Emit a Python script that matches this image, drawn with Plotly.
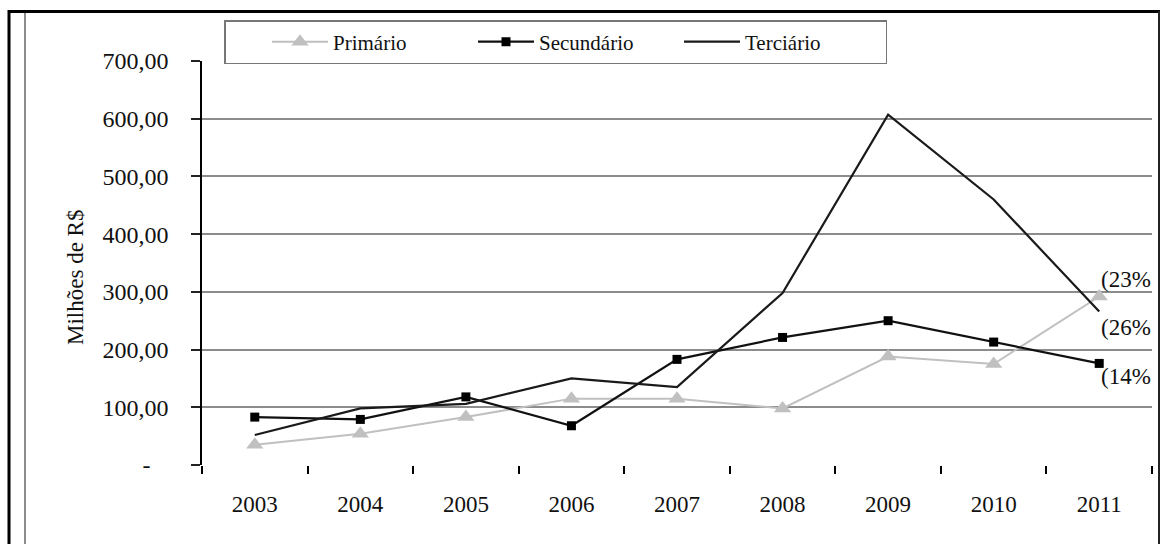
import plotly.graph_objects as go

# Investimentos por setor (milhões de R$)
anos = ["2003", "2004", "2005", "2006", "2007", "2008", "2009", "2010", "2011"]
primario = [35, 54, 83, 115, 115, 98, 188, 175, 292]
secundario = [83, 79, 118, 68, 183, 221, 250, 213, 176]
terciario = [52, 98, 106, 150, 135, 298, 607, 460, 266]

y_ticks = [0, 100, 200, 300, 400, 500, 600, 700]
y_tick_text = ["-\u00a0\u00a0\u00a0", "100,00", "200,00", "300,00", "400,00",
               "500,00", "600,00", "700,00"]

# rótulos percentuais do último ano (série, texto, deslocamento vertical)
rotulos_2011 = [
    (primario, "(23%", 17),
    (terciario, "(26%", -16),
    (secundario, "(14%", -13),
]

W, H = 1161, 544
L, R, T, B = 202, 9, 61, 79
PW, PH = W - L - R, H - T - B
FONT = "Liberation Serif, Times New Roman, Times, serif"


def px(x):
    return (x - L) / PW


def py(y):
    return (H - B - y) / PH


fig = go.Figure()
fig.add_trace(go.Scatter(
    x=anos, y=primario, name="Primário", mode="lines+markers",
    line=dict(color="#c0c0c0", width=2),
    marker=dict(symbol="triangle-up", size=15, color="#c0c0c0"),
))
fig.add_trace(go.Scatter(
    x=anos, y=secundario, name="Secundário", mode="lines+markers",
    line=dict(color="#111111", width=2.2),
    marker=dict(symbol="square", size=9, color="#000000"),
))
fig.add_trace(go.Scatter(
    x=anos, y=terciario, name="Terciário", mode="lines",
    line=dict(color="#1a1a1a", width=2.2),
))

ultimo = len(anos) - 1
for serie, texto, dy in rotulos_2011:
    fig.add_annotation(
        x=ultimo, y=serie[ultimo], xref="x", yref="y", text=texto,
        showarrow=False, xanchor="left", yanchor="middle",
        xshift=0, yshift=dy,
        font=dict(family=FONT, size=23, color="#111111"),
    )

fig.add_annotation(
    x=px(75), y=py(278), xref="paper", yref="paper",
    text="Milhões de R$", textangle=-90, showarrow=False,
    xanchor="center", yanchor="middle",
    font=dict(family=FONT, size=23, color="#111111"),
)

# moldura externa
frame = dict(xref="paper", yref="paper", type="line", layer="above")
fig.add_shape(x0=px(9), x1=px(9), y0=py(10), y1=py(560),
              line=dict(color="#000000", width=3), **frame)
fig.add_shape(x0=px(8), x1=px(1160), y0=py(11.5), y1=py(11.5),
              line=dict(color="#000000", width=3), **frame)
fig.add_shape(x0=px(1159), x1=px(1159), y0=py(11), y1=py(560),
              line=dict(color="#222222", width=2), **frame)
fig.add_shape(x0=px(25), x1=px(25), y0=py(13), y1=py(560),
              line=dict(color="#666666", width=1.5), **frame)

fig.update_layout(
    width=W, height=H,
    margin=dict(l=L, r=R, t=T, b=B, pad=0),
    paper_bgcolor="white", plot_bgcolor="white",
    font=dict(family=FONT, size=23, color="#111111"),
    showlegend=True,
    legend=dict(
        orientation="h", x=px(224), y=py(20), xanchor="left", yanchor="top",
        bgcolor="white", bordercolor="#777777", borderwidth=1.5,
        font=dict(family=FONT, size=21, color="#111111"),
        entrywidth=135, itemwidth=56,
        title=dict(text="\u00a0" * 6, side="left",
                   font=dict(family=FONT, size=21)),
    ),
    xaxis=dict(
        type="category", range=[-0.5, 8.5],
        showgrid=False, showline=False, zeroline=False,
        ticks="outside", tickson="boundaries", ticklen=8,
        tickcolor="#000000", tickwidth=1.5,
        tickfont=dict(family=FONT, size=23, color="#111111"),
        ticklabelstandoff=23,
    ),
    yaxis=dict(
        range=[0, 700], tickvals=y_ticks, ticktext=y_tick_text,
        showgrid=True, gridcolor="#8c8c8c", gridwidth=2,
        zeroline=False, showline=True, linecolor="#000000", linewidth=1.5,
        ticks="outside", ticklen=9, tickcolor="#222222", tickwidth=1.5,
        tickfont=dict(family=FONT, size=24, color="#111111"),
        ticklabelstandoff=18,
    ),
)

fig.write_html("out.html")
